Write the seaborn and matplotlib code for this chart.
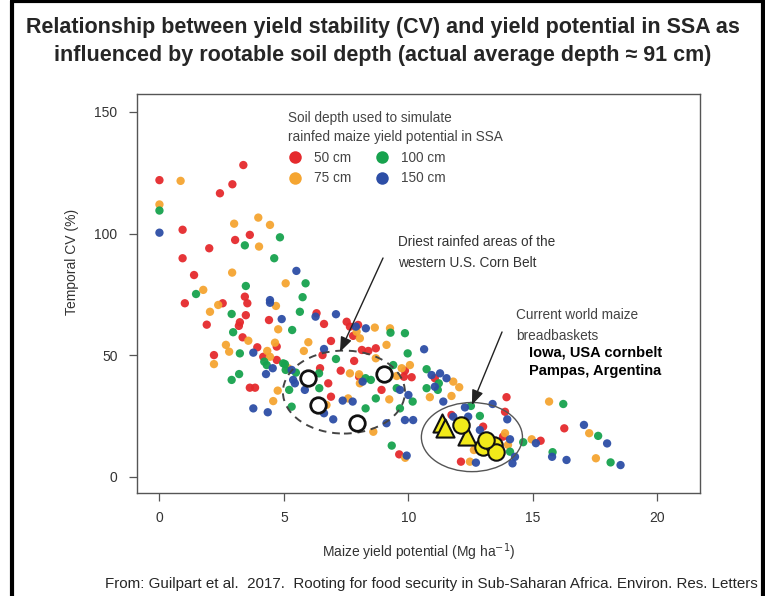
import matplotlib
matplotlib.use("Agg")
import matplotlib.pyplot as plt
import pandas as pd
import seaborn as sns
from matplotlib import font_manager
from matplotlib.patches import Ellipse
from matplotlib.lines import Line2D

# Simulated maize yield potential (Mg/ha) and temporal CV (%) per soil depth
red_x = [3.37, 0.0, 2.93, 2.43, 0.93, 3.63, 3.04, 2.0, 0.93, 1.39, 3.43, 1.02, 2.54, 3.53, 3.47,
         1.9, 3.23, 3.19, 3.34, 4.40, 2.19, 3.93, 4.71, 4.17, 4.71, 3.63, 3.84, 6.31, 6.61, 7.52,
         7.65, 6.89, 7.78, 7.98, 6.55, 7.82, 8.13, 8.39, 8.69, 6.45, 7.28, 8.02, 9.86, 9.82, 10.13,
         11.06, 6.78, 6.89, 8.92, 9.63, 13.94, 13.88, 13.0, 13.8, 15.31, 12.11, 16.26, 11.73]
red_y = [128.2, 122.0, 120.3, 116.6, 101.6, 99.5, 97.4, 94.0, 89.9, 83.0, 74.1, 71.4, 71.4, 71.4, 66.5,
         62.6, 63.6, 62.1, 57.4, 64.5, 50.1, 53.3, 53.6, 49.4, 48.1, 36.7, 36.7, 67.3, 62.9, 63.8,
         61.8, 55.9, 58.0, 62.5, 50.1, 47.7, 52.2, 51.8, 52.9, 44.7, 43.7, 41.2, 43.7, 41.2, 41.0,
         40.6, 38.5, 33.0, 35.8, 9.3, 32.8, 26.8, 20.7, 16.6, 14.9, 6.3, 20.0, 25.5]

orange_x = [0.85, 0.0, 3.97, 3.0, 4.44, 4.0, 2.92, 5.07, 1.76, 2.03, 2.36, 3.57, 4.68, 4.77, 2.67,
            2.80, 2.19, 4.33, 4.64, 4.44, 4.75, 4.57, 8.65, 9.26, 5.98, 7.92, 8.05, 9.12, 5.80, 8.69,
            5.17, 7.65, 8.02, 8.05, 9.73, 10.06, 10.86, 6.71, 7.58, 9.23, 8.59, 9.87, 9.53, 11.8, 12.04,
            11.73, 13.88, 14.0, 14.95, 12.47, 12.63, 15.65, 17.26, 17.53]
orange_y = [121.7, 112.0, 106.6, 104.1, 103.6, 94.7, 84.0, 79.6, 76.9, 67.9, 70.7, 56.0, 70.3, 60.7, 54.3,
            51.5, 46.4, 51.8, 55.2, 49.4, 35.5, 31.2, 61.4, 61.1, 55.4, 59.7, 57.0, 54.3, 51.8, 48.8,
            44.7, 42.6, 42.2, 38.5, 44.7, 46.0, 32.8, 29.6, 32.3, 31.9, 18.6, 7.9, 41.5, 39.2, 36.9,
            33.3, 18.0, 13.2, 15.5, 6.3, 11.1, 31.0, 18.0, 7.7]

green_x = [0.0, 4.84, 3.43, 4.61, 3.47, 1.47, 5.87, 2.9, 2.96, 3.23, 4.31, 5.04, 3.2, 2.9, 5.75,
           5.64, 9.28, 9.86, 5.33, 9.97, 4.21, 4.97, 5.07, 7.09, 5.48, 6.41, 8.28, 8.49, 9.39, 10.73,
           11.22, 10.73, 6.42, 8.28, 8.69, 9.53, 9.66, 10.17, 9.33, 5.31, 5.21, 12.87, 14.61, 14.08, 16.22,
           17.62, 18.12, 15.79, 12.51, 11.18]
green_y = [109.5, 98.5, 95.2, 89.9, 78.5, 75.2, 79.6, 67.0, 59.5, 50.8, 46.0, 46.4, 42.3, 39.9, 73.9,
           67.9, 59.3, 59.1, 60.4, 50.8, 47.4, 46.7, 44.0, 48.5, 42.9, 42.6, 40.6, 39.9, 46.0, 44.3,
           38.5, 36.5, 36.5, 28.2, 32.3, 36.5, 28.2, 31.0, 12.9, 28.9, 35.8, 25.1, 14.3, 10.4, 30.0,
           16.9, 6.0, 10.2, 29.2, 35.8]

blue_x = [0.0, 4.44, 5.5, 4.44, 4.91, 3.77, 4.55, 4.28, 3.77, 4.35, 6.27, 7.09, 7.89, 8.29, 6.61,
          5.31, 8.16, 10.63, 11.27, 5.37, 5.84, 6.61, 6.98, 7.36, 7.76, 9.66, 9.86, 10.19, 9.12, 9.93,
          10.0, 5.44, 10.93, 11.53, 11.06, 11.4, 12.27, 13.38, 13.97, 12.4, 11.8, 12.87, 14.08, 15.12, 14.28,
          14.18, 12.71, 17.05, 17.98, 18.52, 15.77, 16.35]
blue_y = [100.4, 72.7, 84.7, 71.6, 64.9, 51.1, 44.7, 42.3, 28.2, 26.6, 65.9, 66.9, 61.8, 61.1, 52.6,
          44.0, 39.2, 52.5, 42.6, 39.9, 35.8, 26.2, 23.7, 31.4, 31.0, 35.8, 23.4, 23.4, 22.1, 8.8,
          33.7, 38.5, 41.9, 40.6, 37.1, 31.0, 28.6, 30.0, 23.7, 24.8, 24.8, 19.3, 15.5, 13.9, 8.3,
          5.6, 5.9, 21.4, 13.8, 4.9, 8.3, 7.0]

depth_labels = ["50 cm", "75 cm", "100 cm", "150 cm"]
depth_colors = ["#e52a2d", "#f5a531", "#17a24e", "#2d4ea6"]

# Driest rainfed areas of the western U.S. Corn Belt
us_west_x = [5.96, 6.37, 7.93, 9.02]
us_west_y = [40.7, 29.6, 22.2, 42.3]

# Current world breadbaskets: Pampas (triangles), Iowa (circles)
pampas_x = [11.35, 11.47, 12.35]
pampas_y = [22.2, 20.1, 16.9]
iowa_x = [12.11, 12.99, 13.43, 13.51, 13.10]
iowa_y = [21.4, 12.3, 13.2, 10.3, 15.2]

x_ticks = [0, 5, 10, 15, 20]
y_ticks = [0, 50, 100, 150]

frames = []
for lab, xs, ys in zip(depth_labels,
                       [red_x, orange_x, green_x, blue_x],
                       [red_y, orange_y, green_y, blue_y]):
    frames.append(pd.DataFrame({"yp": xs, "cv": ys, "depth": lab}))
df = pd.concat(frames, ignore_index=True)
palette = dict(zip(depth_labels, depth_colors))

sns.set_style("ticks")
plt.rcParams["font.family"] = ["Liberation Sans", "DejaVu Sans"]

installed = {f.name for f in font_manager.fontManager.ttflist}
narrow = "Liberation Sans Narrow" in installed
head_family = ["Liberation Sans Narrow", "DejaVu Sans"] if narrow else ["Liberation Sans", "DejaVu Sans"]

fig = plt.figure(figsize=(7.65, 5.96), dpi=100)
ax = fig.add_axes([0.179, 0.1728, 0.736, 0.6695])

sns.scatterplot(data=df, x="yp", y="cv", hue="depth", palette=palette,
                s=36, linewidth=0, alpha=0.95, legend=False, ax=ax, zorder=2)

# Ellipses around the reference regions
ax.add_patch(Ellipse((7.41, 34.9), 4.9, 34.1, fill=False, ls=(0, (4, 3)),
                     lw=1.4, ec="#444444", zorder=3))
ax.add_patch(Ellipse((12.55, 16.4), 4.06, 28.4, fill=False, lw=1.0,
                     ec="#555555", zorder=3))

ax.scatter(us_west_x, us_west_y, s=125, facecolor="white", edgecolor="#111111",
           linewidth=2.0, zorder=4)
ax.scatter(pampas_x, pampas_y, s=170, marker="^", facecolor="#f2ea1a",
           edgecolor="#111111", linewidth=1.5, zorder=5)
ax.scatter(iowa_x, iowa_y, s=140, marker="o", facecolor="#f2ea1a",
           edgecolor="#111111", linewidth=1.5, zorder=5)

# Annotations
ax.text(9.58, 92.3, "Driest rainfed areas of the\nwestern U.S. Corn Belt",
        fontsize=9.8, color="#333333", va="center", ha="left", linespacing=1.6)
ax.annotate("", xy=(7.25, 51.4), xytext=(8.98, 90.0),
            arrowprops=dict(arrowstyle="-|>,head_length=0.9,head_width=0.35",
                            color="#222222", lw=1.0, shrinkA=0, shrinkB=0), zorder=6)
ax.text(14.32, 62.3, "Current world maize\nbreadbaskets",
        fontsize=9.8, color="#444444", va="center", ha="left", linespacing=1.6)
ax.text(14.84, 47.3, "Iowa, USA cornbelt\nPampas, Argentina",
        fontsize=10.5, color="black", fontweight="bold", va="center", ha="left",
        linespacing=1.45)
ax.annotate("", xy=(12.55, 29.6), xytext=(13.76, 59.6),
            arrowprops=dict(arrowstyle="-|>,head_length=0.9,head_width=0.35",
                            color="#222222", lw=1.0, shrinkA=0, shrinkB=0), zorder=6)

# Legend
handles = [Line2D([], [], marker="o", ls="", markersize=9, markerfacecolor=c,
                  markeredgewidth=0) for c in depth_colors]
leg = ax.legend(handles, depth_labels, ncol=2, frameon=False,
                title="Soil depth used to simulate\nrainfed maize yield potential in SSA",
                loc="upper left", bbox_to_anchor=(0.268, 0.958), fontsize=9.8,
                title_fontsize=9.8, alignment="left", handletextpad=0.9,
                columnspacing=1.8, labelspacing=0.5, handlelength=1.0,
                borderaxespad=0, borderpad=0)
leg.get_title().set_color("#444444")
leg.get_title().set_linespacing(1.45)
for t in leg.get_texts():
    t.set_color("#444444")

ax.set_xlim(-0.904, 21.71)
ax.set_ylim(-6.58, 157.4)
ax.set_xticks(x_ticks)
ax.set_yticks(y_ticks)
ax.tick_params(axis="both", direction="out", length=6, width=0.9, color="#555555",
               labelsize=10, labelcolor="#333333")
ax.tick_params(axis="y", pad=8)
ax.tick_params(axis="x", pad=7)
for sp in ax.spines.values():
    sp.set_visible(True)
    sp.set_color("#555555")
    sp.set_linewidth(1.0)

ax.set_xlabel("Maize yield potential (Mg ha$^{-1}$)", fontsize=10, color="#333333",
              labelpad=12)
ax.set_ylabel("Temporal CV (%)", fontsize=10, color="#333333")
ax.yaxis.set_label_coords(-0.103, 0.58)

if narrow:
    fig.text(0.5, 0.975, "Relationship between yield stability (CV) and yield potential in SSA as\n"
             "influenced by rootable soil depth (actual average depth \u2248 91 cm)",
             ha="center", va="top", fontsize=18.5, fontweight="bold", linespacing=1.4,
             family=head_family)
    fig.text(0.99, 0.02, "From: Guilpart et al.  2017.  Rooting for food security in Sub-Saharan "
             "Africa. Environ. Res. Letters", ha="right", va="center", fontsize=12.5,
             family=head_family)
else:
    fig.text(0.5, 0.972, "Relationship between yield stability (CV) and yield potential in SSA as\n"
             "influenced by rootable soil depth (actual average depth \u2248 91 cm)",
             ha="center", va="top", fontsize=15.5, fontweight="bold", linespacing=1.45)
    fig.text(0.99, 0.02, "From: Guilpart et al.  2017.  Rooting for food security in Sub-Saharan "
             "Africa. Environ. Res. Letters", ha="right", va="center", fontsize=10.9)

# Outer frame on left, top and right
for xs, ys in [([0.016, 0.016], [0, 0.998]), ([0.016, 0.998], [0.998, 0.998]),
               ([0.998, 0.998], [0.998, 0])]:
    fig.add_artist(Line2D(xs, ys, transform=fig.transFigure, color="black", lw=3.0))

fig.savefig("out.png", dpi=100)
